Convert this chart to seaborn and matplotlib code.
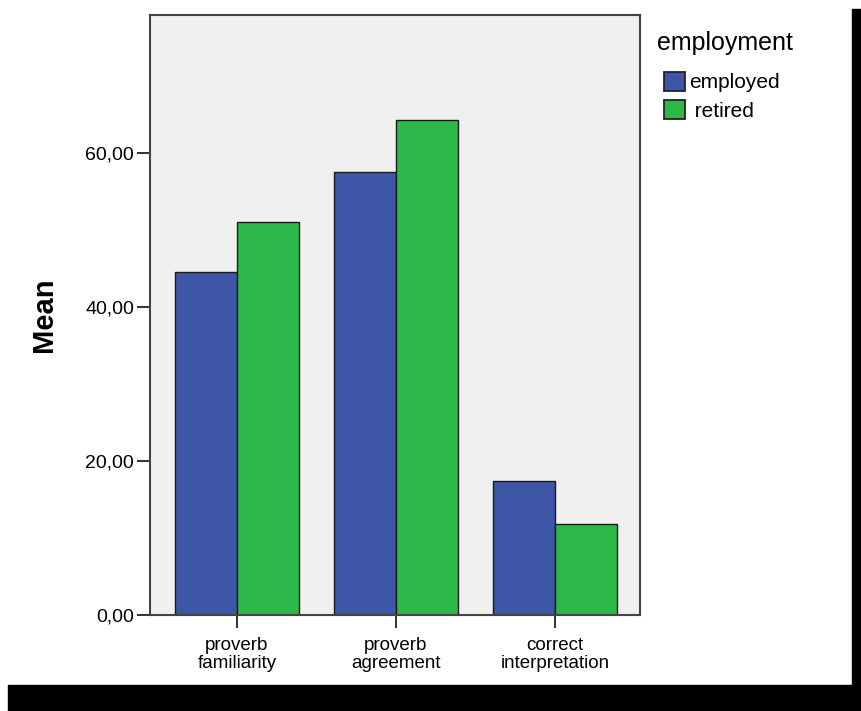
import numpy as np
import pandas as pd
import matplotlib
matplotlib.use("Agg")
import matplotlib.pyplot as plt
from matplotlib.patches import Rectangle, Patch
import seaborn as sns

# Data
measures = ["proverb\nfamiliarity", "proverb\nagreement", "correct\ninterpretation"]
employed_means = [44.5, 57.5, 17.4]
retired_means = [51.0, 64.3, 11.8]
groups = ["employed", "retired"]
group_colors = ["#3D56A8", "#2DB84A"]
y_ticks = [0, 20, 40, 60]

df = pd.DataFrame({
    "measure": measures * 2,
    "employment": ["employed"] * 3 + ["retired"] * 3,
    "mean": employed_means + retired_means,
})

sns.set_style("white")
plt.rcParams["font.family"] = ["Liberation Sans", "DejaVu Sans"]
plt.rcParams["text.color"] = "black"
plt.rcParams["axes.labelcolor"] = "black"
plt.rcParams["xtick.color"] = "black"
plt.rcParams["ytick.color"] = "black"

fig = plt.figure(figsize=(8.62, 7.11), dpi=100)
ax = fig.add_axes([150 / 862, 1 - 615 / 711, 490 / 862, 600 / 711])
ax.set_facecolor("#F0F0F0")

sns.barplot(data=df, x="measure", y="mean", hue="employment", order=measures,
            hue_order=groups, palette=group_colors, width=0.78, saturation=1,
            edgecolor="#1a1a1a", linewidth=1.0, errorbar=None, ax=ax)

ax.set_xlim(-0.547, 2.535)
ax.set_ylim(0, 77.9)
ax.set_yticks(y_ticks)
ax.set_yticklabels([f"{v:.2f}".replace(".", ",") for v in y_ticks], fontsize=14)
ax.set_xticklabels(measures, fontsize=13.5, linespacing=1.1)
ax.set_xlabel("")
ax.set_ylabel("Mean", fontsize=21, fontweight="bold")
ax.yaxis.set_label_coords(-0.187, 0.5)
ax.tick_params(axis="both", direction="out", length=9.5, width=1.3, color="#222222",
               bottom=True, left=True)
ax.tick_params(axis="x", pad=6)
ax.tick_params(axis="y", pad=2)
for s in ax.spines.values():
    s.set_color("#444444")
    s.set_linewidth(1.5)

ax.legend_.remove()
fig.text(657 / 862, 1 - 43 / 711, "employment", fontsize=18, ha="left", va="center")
handles = [Patch(facecolor=c, edgecolor="#222222", linewidth=1.3) for c in group_colors]
fig.legend(handles, ["employed", " retired"],
           loc="upper left", bbox_to_anchor=(664 / 862, 1 - 72 / 711),
           frameon=False, fontsize=15, borderpad=0,
           handlelength=1.0, handleheight=1.0, handletextpad=0.2,
           labelspacing=0.38, borderaxespad=0)

# black drop shadow on right and bottom
fig.patches.append(Rectangle((852 / 862, 0), 10 / 862, 1 - 9 / 711,
                             transform=fig.transFigure, color="black", zorder=0))
fig.patches.append(Rectangle((8 / 862, 0), 1, 26 / 711,
                             transform=fig.transFigure, color="black", zorder=0))

fig.savefig("out.png", dpi=100)
